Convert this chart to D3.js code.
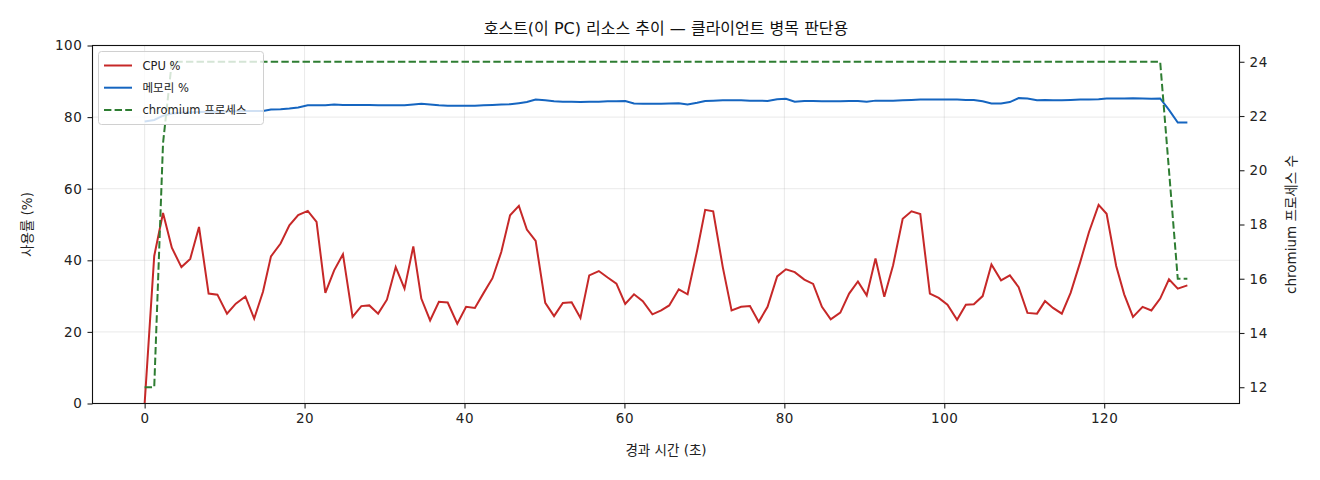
<!DOCTYPE html>
<html>
<head>
<meta charset="utf-8">
<script src="https://cdn.jsdelivr.net/npm/d3@7"></script>
<style>
body { margin: 0; background: #fff; }
svg { font-family: "DejaVu Sans", "Noto Sans CJK KR", sans-serif; }
.tick text { font-size: 13.5px; fill: #222; letter-spacing: 0.6px; }
.tick line { stroke: #222; }
</style>
</head>
<body>
<svg id="chart" width="1320" height="480"></svg>
<script>
// elapsed seconds of every sample
const times = [
  0.0, 1.2, 2.3, 3.4, 4.6, 5.7, 6.8, 8.0, 9.1, 10.3,
  11.4, 12.6, 13.7, 14.8, 15.8, 17.0, 18.1, 19.2, 20.4, 21.5,
  22.6, 23.7, 24.8, 26.0, 27.1, 28.1, 29.2, 30.3, 31.4, 32.5,
  33.6, 34.6, 35.7, 36.8, 37.9, 39.1, 40.2, 41.3, 42.4, 43.5,
  44.6, 45.7, 46.8, 47.8, 48.9, 50.1, 51.2, 52.3, 53.4, 54.5,
  55.6, 56.8, 57.9, 59.0, 60.1, 61.2, 62.3, 63.5, 64.6, 65.6,
  66.8, 67.9, 69.1, 70.1, 71.1, 72.3, 73.4, 74.6, 75.7, 76.8,
  77.9, 79.1, 80.2, 81.3, 82.5, 83.6, 84.7, 85.8, 87.0, 88.1,
  89.2, 90.3, 91.4, 92.5, 93.6, 94.8, 95.9, 97.0, 98.2, 99.3,
  100.4, 101.6, 102.7, 103.7, 104.8, 105.9, 107.1, 108.2, 109.3, 110.4,
  111.6, 112.6, 113.6, 114.7, 115.8, 117.0, 118.1, 119.3, 120.3, 121.5,
  122.5, 123.6, 124.8, 125.9, 127.0, 128.1, 129.2, 130.4
];
const cpu = [
  0, 41.2, 53.2, 43.5, 38.1, 40.4, 49.3, 30.7, 30.4, 25.1,
  27.9, 29.9, 23.7, 31.2, 41.1, 44.7, 49.8, 52.6, 53.8, 50.7,
  30.9, 37.2, 41.7, 24.2, 27.2, 27.4, 25.1, 29.0, 38.1, 32.1,
  43.9, 29.3, 23.2, 28.4, 28.2, 22.3, 27.0, 26.7, 30.9, 35.0,
  42.3, 52.6, 55.2, 48.6, 45.4, 28.1, 24.4, 28.1, 28.3, 23.9,
  35.8, 37.0, 35.2, 33.5, 27.8, 30.5, 28.6, 24.9, 26.0, 27.4,
  31.9, 30.5, 42.8, 54.1, 53.7, 38.1, 26.0, 27.0, 27.2, 22.8,
  27.0, 35.5, 37.5, 36.7, 34.6, 33.4, 27.0, 23.5, 25.4, 30.7,
  34.1, 30.2, 40.5, 29.8, 38.6, 51.6, 53.7, 52.9, 30.7, 29.5,
  27.6, 23.4, 27.6, 27.7, 30.0, 38.8, 34.4, 35.8, 32.5, 25.3,
  25.1, 28.6, 26.7, 25.1, 30.9, 39.5, 47.9, 55.5, 53.0, 38.4,
  30.5, 24.2, 27.0, 26.0, 29.3, 34.7, 32.1, 33.0
];
const mem = [
  78.8, 79.2, 80.4, 81.0, 81.2, 81.3, 81.4, 81.5, 81.5, 81.6,
  81.6, 81.7, 81.7, 81.7, 82.1, 82.2, 82.4, 82.7, 83.3, 83.3,
  83.3, 83.5, 83.4, 83.4, 83.4, 83.4, 83.3, 83.3, 83.3, 83.3,
  83.5, 83.7, 83.5, 83.3, 83.2, 83.2, 83.2, 83.2, 83.3, 83.4,
  83.5, 83.6, 83.9, 84.2, 84.9, 84.7, 84.4, 84.3, 84.3, 84.2,
  84.3, 84.3, 84.4, 84.4, 84.5, 83.8, 83.7, 83.7, 83.7, 83.8,
  83.9, 83.5, 84.0, 84.5, 84.6, 84.7, 84.7, 84.7, 84.6, 84.6,
  84.5, 85.0, 85.1, 84.3, 84.5, 84.5, 84.4, 84.4, 84.4, 84.5,
  84.5, 84.3, 84.6, 84.6, 84.6, 84.7, 84.8, 84.9, 84.9, 84.9,
  84.9, 84.9, 84.8, 84.8, 84.4, 83.8, 83.8, 84.2, 85.3, 85.2,
  84.7, 84.8, 84.7, 84.7, 84.8, 84.9, 84.9, 85.0, 85.2, 85.2,
  85.2, 85.3, 85.2, 85.1, 85.2, 82.0, 78.5, 78.5
];
const procs = [
  12, 12, 21, 24, 24, 24, 24, 24, 24, 24,
  24, 24, 24, 24, 24, 24, 24, 24, 24, 24,
  24, 24, 24, 24, 24, 24, 24, 24, 24, 24,
  24, 24, 24, 24, 24, 24, 24, 24, 24, 24,
  24, 24, 24, 24, 24, 24, 24, 24, 24, 24,
  24, 24, 24, 24, 24, 24, 24, 24, 24, 24,
  24, 24, 24, 24, 24, 24, 24, 24, 24, 24,
  24, 24, 24, 24, 24, 24, 24, 24, 24, 24,
  24, 24, 24, 24, 24, 24, 24, 24, 24, 24,
  24, 24, 24, 24, 24, 24, 24, 24, 24, 24,
  24, 24, 24, 24, 24, 24, 24, 24, 24, 24,
  24, 24, 24, 24, 24, 20, 16, 16
];
const xTicks = [0, 20, 40, 60, 80, 100, 120];
const yTicks = [0, 20, 40, 60, 80, 100];
const y2Ticks = [12, 14, 16, 18, 20, 22, 24];
const seriesNames = ["CPU %", "메모리 %", "chromium 프로세스"];

var margin = {top: 45.5, right: 80.5, bottom: 76.5, left: 92.5},
    W = 1320, H = 480,
    width = W - margin.left - margin.right,
    height = H - margin.top - margin.bottom;

// matplotlib style 5% padding
var pad = (ext) => { let d = (ext[1] - ext[0]) * 0.05; return [ext[0] - d, ext[1] + d]; };

var x = d3.scaleLinear().domain(pad(d3.extent(times))).range([0, width]);
var y = d3.scaleLinear().domain([0, 100]).range([height, 0]);
var y2 = d3.scaleLinear().domain(pad(d3.extent(procs))).range([height, 0]);

var svg = d3.select("#chart");
var g = svg.append("g").attr("transform", "translate(" + margin.left + "," + margin.top + ")");

// grid
g.append("g").selectAll("line").data(xTicks).join("line")
    .attr("x1", d => x(d)).attr("x2", d => x(d))
    .attr("y1", 0).attr("y2", height)
    .attr("stroke", "#b0b0b0").attr("stroke-opacity", 0.35).attr("stroke-width", 0.8);
g.append("g").selectAll("line").data(yTicks).join("line")
    .attr("x1", 0).attr("x2", width)
    .attr("y1", d => y(d)).attr("y2", d => y(d))
    .attr("stroke", "#b0b0b0").attr("stroke-opacity", 0.35).attr("stroke-width", 0.8);

// lines
var rows = times.map((t, i) => ({t: t, cpu: cpu[i], mem: mem[i], procs: procs[i]}));
var lineCpu = d3.line().x(d => x(d.t)).y(d => y(d.cpu));
var lineMem = d3.line().x(d => x(d.t)).y(d => y(d.mem));
var lineProcs = d3.line().x(d => x(d.t)).y(d => y2(d.procs));

g.append("path").datum(rows).attr("d", lineCpu)
    .attr("fill", "none").attr("stroke", "#c62828").attr("stroke-width", 2);
g.append("path").datum(rows).attr("d", lineMem)
    .attr("fill", "none").attr("stroke", "#1565c0").attr("stroke-width", 2);
g.append("path").datum(rows).attr("d", lineProcs)
    .attr("fill", "none").attr("stroke", "#2e7d32").attr("stroke-width", 2)
    .attr("stroke-dasharray", "7.4,3.2");

// axes
var xAxis = g.append("g").attr("transform", "translate(0," + height + ")")
    .call(d3.axisBottom(x).tickValues(xTicks).tickSize(5).tickPadding(5).tickFormat(d3.format("d")));
var yAxis = g.append("g")
    .call(d3.axisLeft(y).tickValues(yTicks).tickSize(5).tickPadding(5).tickFormat(d3.format("d")));
var y2Axis = g.append("g").attr("transform", "translate(" + width + ",0)")
    .call(d3.axisRight(y2).tickValues(y2Ticks).tickSize(5).tickPadding(5).tickFormat(d3.format("d")));
[xAxis, yAxis, y2Axis].forEach(a => {
    a.select(".domain").remove();
    a.selectAll(".tick line").attr("stroke-width", 1.1);
    a.attr("font-family", null).attr("font-size", null);
});

// frame
g.append("rect").attr("width", width).attr("height", height)
    .attr("fill", "none").attr("stroke", "#111").attr("stroke-width", 1.1);

// legend
var leg = g.append("g").attr("transform", "translate(6,6)");
leg.append("rect").attr("width", 165).attr("height", 73).attr("rx", 3)
    .attr("fill", "#fff").attr("fill-opacity", 0.8)
    .attr("stroke", "#d0d0d0").attr("stroke-width", 1);
var legColors = ["#c62828", "#1565c0", "#2e7d32"];
seriesNames.forEach((name, i) => {
    let ly = 14 + i * 22.2;
    let l = leg.append("line").attr("x1", 5.5).attr("x2", 33.5).attr("y1", ly).attr("y2", ly)
        .attr("stroke", legColors[i]).attr("stroke-width", 2);
    if (i == 2) l.attr("stroke-dasharray", "7.4,3.2");
    leg.append("text").attr("x", 44).attr("y", ly).attr("dy", "0.35em")
        .attr("font-size", 11.5).attr("fill", "#222").text(name);
});

// labels
svg.append("text").attr("x", margin.left + width / 2).attr("y", 28).attr("dy", "0.35em")
    .attr("text-anchor", "middle").attr("font-size", 16).attr("fill", "#111")
    .text("호스트(이 PC) 리소스 추이 — 클라이언트 병목 판단용");
svg.append("text").attr("x", margin.left + width / 2).attr("y", 450).attr("dy", "0.35em")
    .attr("text-anchor", "middle").attr("font-size", 13.5).attr("fill", "#222")
    .text("경과 시간 (초)");
svg.append("text").attr("transform", "translate(27," + (margin.top + height / 2) + ") rotate(-90)")
    .attr("dy", "0.35em").attr("text-anchor", "middle").attr("font-size", 13.5).attr("fill", "#222")
    .text("사용률 (%)");
svg.append("text").attr("transform", "translate(1291," + (margin.top + height / 2) + ") rotate(-90)")
    .attr("dy", "0.35em").attr("text-anchor", "middle").attr("font-size", 13.5).attr("fill", "#222")
    .text("chromium 프로세스 수");
</script>
</body>
</html>
